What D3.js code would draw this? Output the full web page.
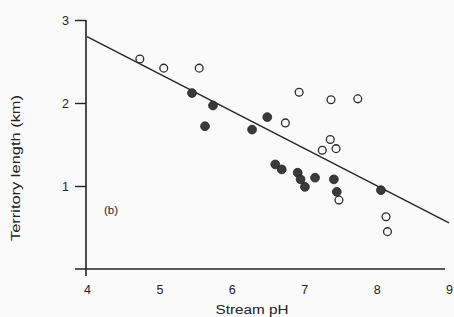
<!DOCTYPE html>
<html>
<head>
<meta charset="utf-8">
<script src="https://cdn.jsdelivr.net/npm/d3@7"></script>
<style>
  html, body { margin: 0; padding: 0; background: #fafafa; }
  svg { display: block; }
  text { font-family: "Liberation Sans", Arial, sans-serif; fill: #222; }
</style>
</head>
<body>
<svg id="chart" width="454" height="317"></svg>
<script>
// ---- data ----
const xTicks = [4, 5, 6, 7, 8, 9];
const yTicks = [1, 2, 3];

const openPH     = [4.73, 5.06, 5.55, 6.74, 6.93, 7.25, 7.36, 7.37, 7.44, 7.48, 7.74, 8.13, 8.15];
const openLength = [2.53, 2.42, 2.42, 1.76, 2.13, 1.43, 1.56, 2.04, 1.45, 0.83, 2.05, 0.63, 0.45];

const filledPH     = [5.45, 5.63, 5.74, 6.28, 6.49, 6.60, 6.69, 6.91, 6.95, 7.01, 7.15, 7.41, 7.45, 8.06];
const filledLength = [2.12, 1.72, 1.97, 1.68, 1.83, 1.26, 1.20, 1.16, 1.08, 0.99, 1.10, 1.08, 0.93, 0.95];

const fitPH     = [4, 9];
const fitLength = [2.80, 0.555];

const xTitle = "Stream pH";
const yTitle = "Territory length (km)";
const panelLabel = "(b)";

// ---- drawing ----
const svg = d3.select("#chart");
const x = d3.scaleLinear().domain([4, 9]).range([87, 449]);
const y = d3.scaleLinear().domain([0, 3]).range([269, 20]);
const ink = "#222";

// x axis (labels only, custom line)
const gx = svg.append("g").attr("transform", `translate(0,${y(0)})`)
  .call(d3.axisBottom(x).tickValues(xTicks).tickSize(0).tickPadding(16).tickFormat(d3.format("d")));
gx.select(".domain").remove();
gx.selectAll("text").attr("font-size", 12.5).style("fill", ink);

svg.append("line")
  .attr("x1", x(4) - 12).attr("x2", x(9) - 4)
  .attr("y1", y(0)).attr("y2", y(0))
  .attr("stroke", ink).attr("stroke-width", 1.6);

// y axis
const gy = svg.append("g").attr("transform", `translate(${x(4) - 1},0)`)
  .call(d3.axisLeft(y).tickValues(yTicks).tickSize(11).tickPadding(6).tickFormat(d3.format("d")));
gy.select(".domain").remove();
gy.selectAll(".tick line").attr("stroke", ink).attr("stroke-width", 1.4);
gy.selectAll("text").attr("font-size", 12.5).style("fill", ink);

svg.append("line")
  .attr("x1", x(4) - 1).attr("x2", x(4) - 1)
  .attr("y1", y(3)).attr("y2", y(0) + 7)
  .attr("stroke", ink).attr("stroke-width", 1.6);

// regression line
const line = d3.line().x(d => x(d[0])).y(d => y(d[1]));
svg.append("path")
  .datum(d3.zip(fitPH, fitLength))
  .attr("d", line)
  .attr("fill", "none").attr("stroke", ink).attr("stroke-width", 1.3);

// filled points
svg.append("g").selectAll("circle")
  .data(d3.zip(filledPH, filledLength))
  .join("circle")
  .attr("cx", d => x(d[0])).attr("cy", d => y(d[1]))
  .attr("r", 4.4)
  .attr("fill", "#3a3a3a").attr("stroke", "#222").attr("stroke-width", 0.8);

// open points
svg.append("g").selectAll("circle")
  .data(d3.zip(openPH, openLength))
  .join("circle")
  .attr("cx", d => x(d[0])).attr("cy", d => y(d[1]))
  .attr("r", 3.9)
  .attr("fill", "#fafafa").attr("stroke", "#2a2a2a").attr("stroke-width", 1.3);

// titles
svg.append("text")
  .attr("x", 252).attr("y", 314)
  .attr("text-anchor", "middle")
  .attr("font-size", 12)
  .attr("textLength", 73).attr("lengthAdjust", "spacingAndGlyphs")
  .text(xTitle);

svg.append("text")
  .attr("transform", "translate(20,168) rotate(-90)")
  .attr("text-anchor", "middle")
  .attr("font-size", 12)
  .attr("textLength", 146).attr("lengthAdjust", "spacingAndGlyphs")
  .text(yTitle);

svg.append("text")
  .attr("x", 111).attr("y", 214)
  .attr("text-anchor", "middle")
  .attr("font-size", 11.5)
  .text(panelLabel);
</script>
</body>
</html>
